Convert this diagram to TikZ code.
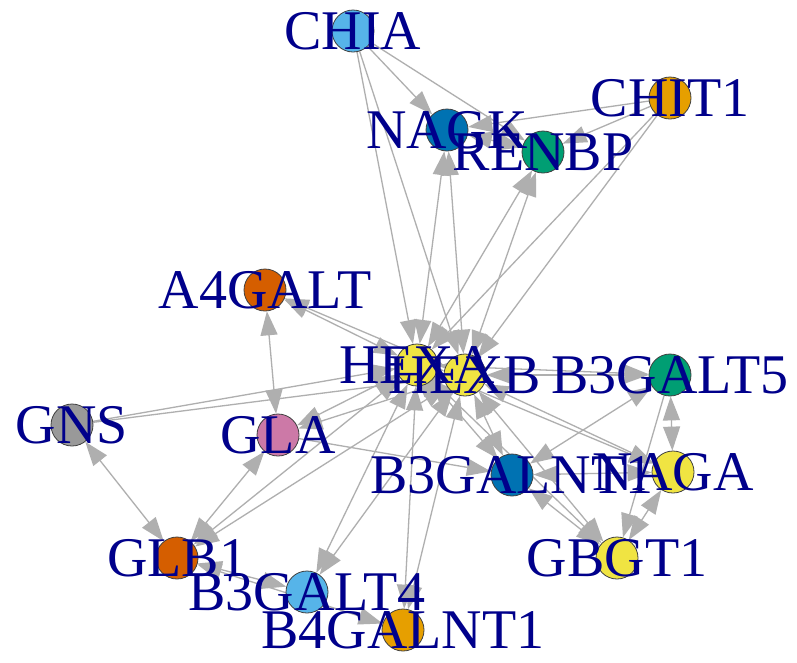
\documentclass[tikz,border=0pt]{standalone}
\usepackage{fontspec}
\setmainfont{Liberation Serif}
\usetikzlibrary{arrows.meta,backgrounds}
\definecolor{edgec}{HTML}{AFAFAF}
\definecolor{labc}{HTML}{00008B}
\definecolor{cLB}{HTML}{56B4E9}
\definecolor{cOR}{HTML}{E69F00}
\definecolor{cBL}{HTML}{0072B2}
\definecolor{cGR}{HTML}{009E73}
\definecolor{cVE}{HTML}{D55E00}
\definecolor{cYE}{HTML}{F0E442}
\definecolor{cGY}{HTML}{999999}
\definecolor{cPK}{HTML}{CC79A7}
\tikzset{
  vtx/.style={circle,draw=black!75,line width=0.8pt,minimum size=42pt,inner sep=0pt},
  lab/.style={text=labc,font=\fontsize{56}{56}\selectfont,inner sep=0pt,anchor=center},
  edge/.style={draw=edgec,line width=1.3pt},
  tip/.tip={Triangle[length=24pt,width=17pt]},
  one/.style={edge,-tip},
  two/.style={edge,tip-tip}
}
\begin{document}
\begin{tikzpicture}[x=1pt,y=-1pt]
\useasboundingbox (0,0) rectangle (797,662);
\node[vtx,fill=cLB] (CHIA) at (353,31) {};
\node[vtx,fill=cOR] (CHIT1) at (670,98) {};
\node[vtx,fill=cBL] (NAGK) at (447,130) {};
\node[vtx,fill=cGR] (RENBP) at (543,152) {};
\node[vtx,fill=cVE] (A4GALT) at (265,290) {};
\node[vtx,fill=cYE] (HEXA) at (417,365) {};
\node[vtx,fill=cYE] (HEXB) at (465,375) {};
\node[vtx,fill=cGR] (B3GALT5) at (670,375) {};
\node[vtx,fill=cGY] (GNS) at (72,425) {};
\node[vtx,fill=cPK] (GLA) at (278,435) {};
\node[vtx,fill=cBL] (B3GALNT1) at (512,475) {};
\node[vtx,fill=cYE] (NAGA) at (673,472) {};
\node[vtx,fill=cVE] (GLB1) at (177,558) {};
\node[vtx,fill=cYE] (GBGT1) at (617,558) {};
\node[vtx,fill=cLB] (B3GALT4) at (307,592) {};
\node[vtx,fill=cOR] (B4GALNT1) at (403,630) {};
\begin{scope}[on background layer]
\fill[white] (0,0) rectangle (797,662);
\draw[one] (CHIA) -- (NAGK);
\draw[one] (CHIA) -- (RENBP);
\draw[one] (CHIA) -- (HEXA);
\draw[one] (CHIA) -- (HEXB);
\draw[one] (CHIT1) -- (NAGK);
\draw[one] (CHIT1) -- (RENBP);
\draw[one] (CHIT1) -- (HEXA);
\draw[one] (CHIT1) -- (HEXB);
\draw[two] (NAGK) -- (HEXA);
\draw[two] (NAGK) -- (HEXB);
\draw[two] (RENBP) -- (HEXA);
\draw[two] (RENBP) -- (HEXB);
\draw[two] (NAGK) -- (RENBP);
\draw[two] (A4GALT) -- (HEXA);
\draw[two] (A4GALT) -- (HEXB);
\draw[two] (A4GALT) -- (GLA);
\draw[one] (GNS) -- (HEXA);
\draw[one] (GNS) -- (HEXB);
\draw[two] (GNS) -- (GLB1);
\draw[two] (GLA) -- (HEXA);
\draw[two] (GLA) -- (HEXB);
\draw[two] (GLA) -- (GLB1);
\draw[one] (GLA) -- (B3GALNT1);
\draw[two] (GLB1) -- (HEXA);
\draw[two] (GLB1) -- (HEXB);
\draw[two] (GLB1) -- (B3GALT4);
\draw[two] (GLB1) -- (B4GALNT1);
\draw[two] (B3GALT4) -- (HEXA);
\draw[two] (B3GALT4) -- (HEXB);
\draw[two] (B4GALNT1) -- (HEXA);
\draw[two] (B4GALNT1) -- (HEXB);
\draw[two] (B3GALT5) -- (HEXA);
\draw[two] (B3GALT5) -- (HEXB);
\draw[two] (B3GALT5) -- (B3GALNT1);
\draw[two] (B3GALT5) -- (NAGA);
\draw[one] (B3GALT5) -- (GBGT1);
\draw[two] (B3GALNT1) -- (HEXA);
\draw[two] (B3GALNT1) -- (HEXB);
\draw[two] (B3GALNT1) -- (GBGT1);
\draw[two] (B3GALNT1) -- (NAGA);
\draw[two] (NAGA) -- (HEXA);
\draw[two] (NAGA) -- (HEXB);
\draw[two] (NAGA) -- (GBGT1);
\draw[two] (GBGT1) -- (HEXA);
\draw[two] (GBGT1) -- (HEXB);
\draw[two] (HEXA) -- (HEXB);
\end{scope}
\node[lab] (tCHIA) at (CHIA) {CHIA};
\node[lab] (tCHIT1) at (CHIT1) {CHIT1};
\node[lab] (tNAGK) at (NAGK) {NAGK};
\node[lab] (tRENBP) at (RENBP) {RENBP};
\node[lab] (tA4GALT) at (A4GALT) {A4GALT};
\node[lab] (tHEXA) at (HEXA) {HEXA};
\node[lab] (tHEXB) at (HEXB) {HEXB};
\node[lab] (tB3GALT5) at (B3GALT5) {B3GALT5};
\node[lab] (tGNS) at (GNS) {GNS};
\node[lab] (tGLA) at (GLA) {GLA};
\node[lab] (tB3GALNT1) at (B3GALNT1) {B3GALNT1};
\node[lab] (tNAGA) at (NAGA) {NAGA};
\node[lab] (tGLB1) at (GLB1) {GLB1};
\node[lab] (tGBGT1) at (GBGT1) {GBGT1};
\node[lab] (tB3GALT4) at (B3GALT4) {B3GALT4};
\node[lab] (tB4GALNT1) at (B4GALNT1) {B4GALNT1};
\end{tikzpicture}
\end{document}
